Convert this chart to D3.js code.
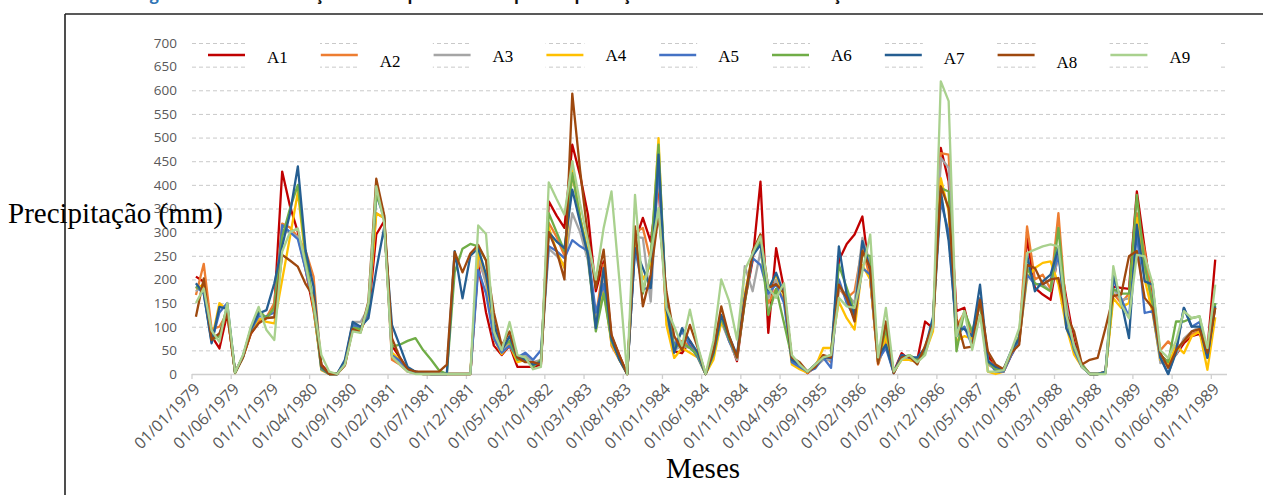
<!DOCTYPE html>
<html>
<head>
<meta charset="utf-8">
<script src="https://cdn.jsdelivr.net/npm/d3@7/dist/d3.min.js"></script>
<style>
  body { margin: 0; background: #fff; }
  svg { display: block; }
</style>
</head>
<body>
<svg id="canverse"></svg>
<script>
// monthly precipitation (mm), Jan 1979 .. Nov 1989, one array per station
let A1 = [206,195,80,54,128,3,35,85,108,120,142,428,
  355,300,220,135,20,2,0,25,100,95,125,295,
  323,60,35,10,5,2,0,0,0,0,0,0,
  231,130,60,40,60,15,15,15,20,365,335,309,
  485,420,337,175,238,80,40,0,280,330,280,404,
  118,48,44,70,40,0,40,120,75,27,154,240,
  407,87,266,180,30,15,2,15,35,30,240,275,
  295,333,200,25,80,5,44,30,30,111,97,478,
  407,133,140,70,154,40,10,5,40,70,288,182,
  168,157,260,161,69,20,0,0,5,185,182,180,
  386,266,154,40,25,41,65,80,85,51,242]
let A2 = [167,233,95,100,130,3,35,90,112,120,150,318,
  310,290,260,206,15,0,0,20,105,92,130,340,
  330,30,20,5,2,0,0,0,0,0,0,0,
  240,200,80,45,65,30,30,20,25,320,290,250,
  430,330,250,120,231,60,30,0,300,309,240,420,
  130,60,70,60,45,0,45,115,70,35,160,250,
  295,150,180,160,25,15,5,20,40,25,182,160,
  175,270,200,20,70,2,35,35,25,55,110,467,
  464,100,130,80,160,30,15,10,45,80,312,200,
  210,180,340,130,60,20,0,0,3,170,150,170,
  340,260,150,50,69,50,70,85,90,40,140]
let A3 = [175,190,75,85,140,3,38,90,125,118,120,300,
  300,290,220,150,10,0,0,22,110,110,140,390,
  335,40,25,5,2,0,0,0,0,0,0,0,
  250,190,80,45,70,30,40,25,30,265,250,230,
  340,300,240,110,200,70,35,0,290,288,153,440,
  120,50,60,55,40,0,40,110,70,30,228,175,
  260,160,200,170,30,15,5,15,30,30,180,170,
  150,288,230,25,60,3,35,30,25,45,100,457,
  436,90,100,70,150,20,10,8,45,75,230,190,
  190,175,250,150,50,15,0,0,3,180,157,160,
  320,230,140,23,30,40,75,90,100,40,150]
let A4 = [180,190,70,150,135,2,35,88,118,110,107,199,
  290,385,240,140,8,0,0,20,100,90,135,340,
  330,45,30,8,3,0,0,0,0,0,0,0,
  256,210,75,42,62,25,30,20,25,310,260,224,
  430,330,260,100,180,65,30,0,280,200,230,499,
  104,34,55,45,35,0,30,110,80,35,170,252,
  280,180,210,165,20,10,3,15,55,55,153,118,
  94,230,200,25,80,5,30,30,25,45,90,414,
  344,70,80,75,160,5,0,5,45,70,203,224,
  235,238,190,100,41,15,0,0,5,160,140,150,
  330,200,130,30,20,60,44,80,90,9,120]
let A5 = [185,170,68,130,150,3,36,92,122,122,130,315,
  300,285,220,150,10,0,0,25,105,95,130,380,
  330,40,28,8,3,0,0,0,0,0,0,0,
  220,170,75,45,60,35,45,30,50,270,260,245,
  283,270,260,130,190,70,35,0,266,180,182,440,
  150,60,90,60,35,0,50,120,70,35,160,245,
  231,170,190,150,25,15,5,12,35,13,200,150,
  120,224,210,30,55,2,40,35,30,50,110,365,
  300,80,100,60,160,30,5,5,40,70,210,190,
  190,200,250,120,50,15,0,0,3,200,160,120,
  300,129,133,35,0,50,140,100,110,35,150]
let A6 = [185,175,72,80,145,2,38,95,135,118,140,290,
  350,400,250,150,12,0,0,22,98,95,140,380,
  335,58,62,70,76,50,30,8,0,215,265,275,
  270,240,100,55,70,30,35,15,30,340,300,260,
  425,330,250,90,170,70,35,0,300,170,250,485,
  140,55,65,55,40,0,40,120,75,35,150,255,
  280,125,180,108,35,20,5,20,35,40,231,182,
  133,252,250,30,95,5,35,40,30,45,115,393,
  386,48,133,90,150,25,10,8,45,80,224,192,
  185,175,309,130,55,20,0,0,2,180,170,170,
  379,230,150,40,25,111,111,118,122,40,150]
let A7 = [192,170,65,142,138,3,36,95,128,135,192,270,
  340,439,260,185,15,0,0,30,110,100,118,220,
  309,104,60,15,5,2,0,0,0,260,160,250,
  266,210,110,50,80,35,30,20,25,300,280,266,
  390,320,252,97,224,75,30,0,266,224,182,464,
  140,45,97,70,45,0,45,125,80,40,160,250,
  273,178,214,170,30,20,5,20,35,34,270,168,
  125,281,220,37,62,3,40,35,35,55,120,386,
  281,97,95,80,189,27,15,10,50,75,252,175,
  196,210,266,97,62,15,0,0,5,210,154,76,
  316,196,189,35,0,45,140,100,100,34,143]
let A8 = [121,202,72,86,128,3,36,86,107,118,120,252,
  240,227,190,163,18,0,0,18,95,88,154,413,
  337,76,35,10,5,5,5,5,20,258,215,255,
  273,240,130,60,90,35,25,25,20,300,260,200,
  593,430,290,182,263,83,40,0,312,143,210,337,
  175,80,50,104,55,0,50,143,80,35,154,260,
  295,182,190,172,35,25,5,15,40,35,189,161,
  111,260,224,22,111,2,35,37,20,60,105,397,
  351,118,55,58,157,48,20,10,45,62,231,224,
  190,200,203,125,90,20,30,34,97,165,168,249,
  260,161,140,45,13,50,70,90,95,45,140]
let A9 = [150,181,92,68,150,3,40,100,142,93,72,259,
  300,308,230,150,40,5,0,20,90,87,150,397,
  320,37,20,5,0,0,0,0,0,0,0,0,
  314,296,90,50,110,40,35,10,15,405,370,337,
  450,360,280,200,309,386,200,0,379,175,252,351,
  140,100,60,136,60,0,70,200,154,73,220,255,
  291,182,161,192,40,20,5,20,35,40,161,143,
  140,217,295,35,140,5,30,40,25,40,100,619,
  577,80,133,51,125,5,5,8,50,97,256,263,
  270,274,270,125,60,15,0,0,0,228,147,118,
  252,249,192,50,34,70,133,118,122,55,189]

let seriesNames = ['A1','A2','A3','A4','A5','A6','A7','A8','A9']
let seriesValues = [A1,A2,A3,A4,A5,A6,A7,A8,A9]
let seriesColors = ['#C00000','#ED7D31','#A5A5A5','#FFC000','#4472C4','#70AD47','#255E91','#9E480E','#A9D18E']

let monthCount = 132   // Jan 1979 .. Dec 1989 on the axis
let tickLabels = ['01/01/1979','01/06/1979','01/11/1979','01/04/1980','01/09/1980','01/02/1981',
  '01/07/1981','01/12/1981','01/05/1982','01/10/1982','01/03/1983','01/08/1983','01/01/1984',
  '01/06/1984','01/11/1984','01/04/1985','01/09/1985','01/02/1986','01/07/1986','01/12/1986',
  '01/05/1987','01/10/1987','01/03/1988','01/08/1988','01/01/1989','01/06/1989','01/11/1989']
let tickStep = 5
let yTicks = [0,50,100,150,200,250,300,350,400,450,500,550,600,650,700]

let width = 1263
let height = 495
let plotLeft = 192
let plotRight = 1227
let plotTop = 43
let plotBottom = 374

let svg = d3.select('#canverse').attr('width', width).attr('height', height)

let xScale = d3.scaleBand().domain(d3.range(monthCount)).range([plotLeft, plotRight])
let yScale = d3.scaleLinear().domain([0, 700]).range([plotBottom, plotTop])
let bw = xScale.bandwidth()

// frame of the figure
svg.append('line').attr('x1', 65).attr('x2', 65).attr('y1', 14).attr('y2', height)
  .attr('stroke', '#222').attr('stroke-width', 1.6)
svg.append('line').attr('x1', 65).attr('x2', width).attr('y1', 14).attr('y2', 14)
  .attr('stroke', '#222').attr('stroke-width', 1.6)

// title, cut off at the top of the picture
let title = svg.append('text').attr('x', 128).attr('y', 0)
  .attr('font-family', 'Open Sans').attr('font-size', 16).attr('font-weight', 'bold')
  .attr('textLength', 1060)
title.append('tspan').attr('fill', '#2E74B5').text('Figura 4 – ')
title.append('tspan').attr('fill', '#111').text('Variação temporal da precipitação das nove estações estudadas de 1979 a 1989')

// gridlines
svg.append('g').selectAll('line').data(yTicks.filter(d => d > 0)).enter().append('line')
  .attr('x1', plotLeft).attr('x2', plotRight)
  .attr('y1', d => yScale(d) + 0.5).attr('y2', d => yScale(d) + 0.5)
  .attr('stroke', '#c9c9c9').attr('stroke-width', 1).attr('stroke-dasharray', '4,3')

// y axis labels
let yAxis = d3.axisLeft(yScale).tickValues(yTicks).tickSize(0).tickPadding(8)
svg.append('g').attr('transform', 'translate(' + (plotLeft - 7) + ',0)').call(yAxis)
  .call(g => g.select('.domain').remove())
  .selectAll('text').attr('font-family', 'Open Sans').attr('font-size', 13.5).attr('fill', '#595959')

// x axis
svg.append('line').attr('x1', plotLeft).attr('x2', plotRight)
  .attr('y1', plotBottom + 0.5).attr('y2', plotBottom + 0.5)
  .attr('stroke', '#d0d0d0').attr('stroke-width', 1.3)

let xTicks = svg.append('g').selectAll('g').data(tickLabels).enter().append('g')
  .attr('transform', (d, i) => 'translate(' + xScale(i * tickStep) + ',' + plotBottom + ')')
xTicks.append('line').attr('y1', 0).attr('y2', 5).attr('stroke', '#d0d0d0').attr('stroke-width', 1.3)
xTicks.append('text')
  .attr('transform', 'translate(5,12) rotate(-45)')
  .attr('text-anchor', 'end').attr('dy', '0.35em')
  .attr('font-family', 'Open Sans').attr('font-size', 16).attr('fill', '#595959')
  .text(d => d)

// series lines
let line = d3.line()
  .x((d, i) => xScale(i) + bw / 2)
  .y(d => yScale(d))

svg.append('g').selectAll('path').data(seriesValues).enter().append('path')
  .attr('d', d => line(d))
  .attr('fill', 'none')
  .attr('stroke', (d, i) => seriesColors[i])
  .attr('stroke-width', 2.3)
  .attr('stroke-linejoin', 'round')

// legend
let legendX = i => 208 + i * 112.8
let legendDy = [63, 67, 62, 61, 62, 61, 64, 68, 63]
let legend = svg.append('g')
legend.selectAll('rect').data(seriesNames).enter().append('rect')
  .attr('x', (d, i) => legendX(i) + 38).attr('y', 38)
  .attr('width', (d, i) => i < 8 ? 74 : 71).attr('height', 36)
  .attr('fill', '#fff')
legend.selectAll('line').data(seriesNames).enter().append('line')
  .attr('x1', (d, i) => legendX(i)).attr('x2', (d, i) => legendX(i) + 37)
  .attr('y1', 55).attr('y2', 55)
  .attr('stroke', (d, i) => seriesColors[i]).attr('stroke-width', 2.6)
legend.selectAll('text').data(seriesNames).enter().append('text')
  .attr('x', (d, i) => legendX(i) + 59).attr('y', (d, i) => legendDy[i])
  .attr('font-family', 'Liberation Serif').attr('font-size', 17).attr('fill', '#000')
  .text(d => d)

// axis titles
svg.append('text').attr('x', 8).attr('y', 223)
  .attr('font-family', 'Liberation Serif').attr('font-size', 29).attr('fill', '#000')
  .text('Precipitação (mm)')
svg.append('text').attr('x', 703).attr('y', 478).attr('text-anchor', 'middle')
  .attr('font-family', 'Liberation Serif').attr('font-size', 29).attr('fill', '#000')
  .text('Meses')
</script>
</body>
</html>
